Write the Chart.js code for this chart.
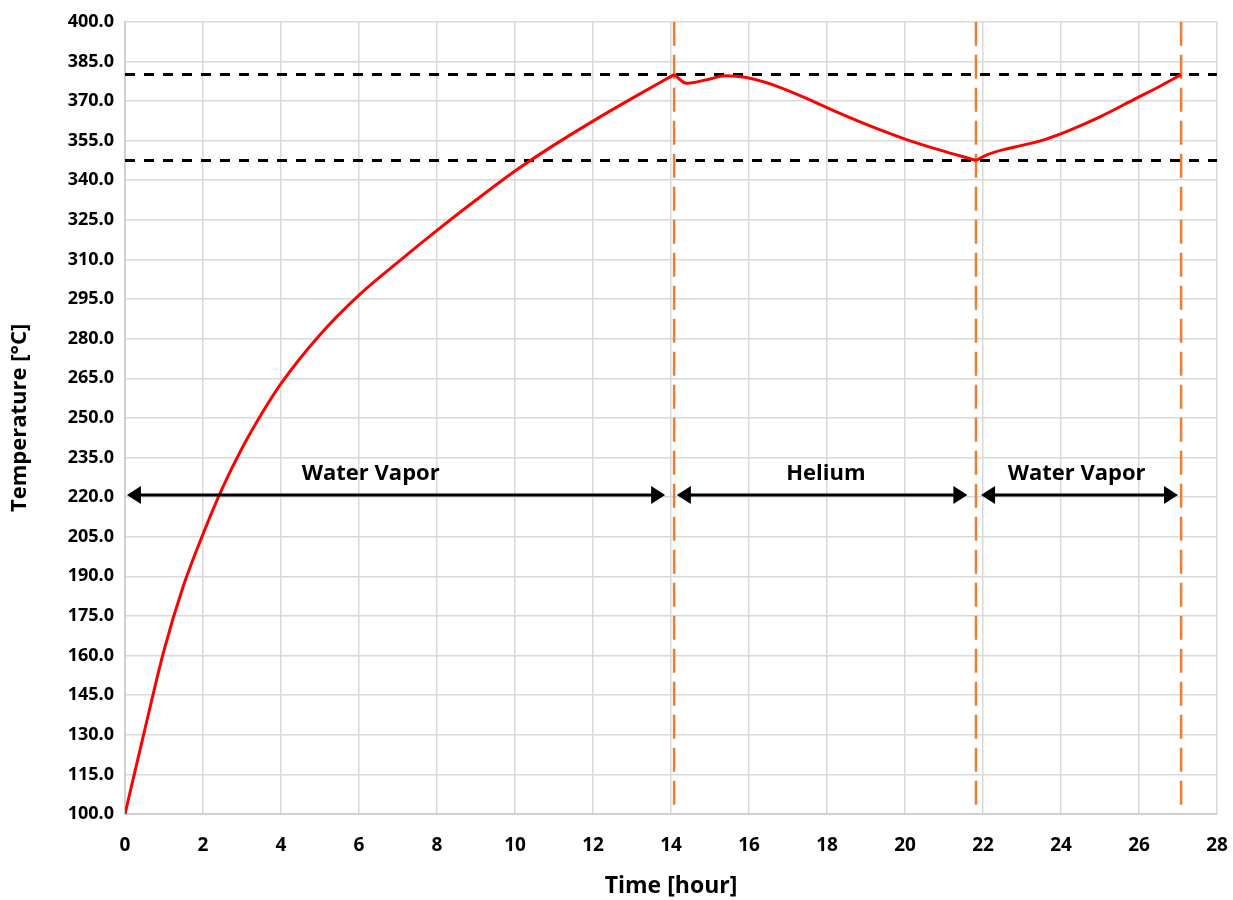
<!DOCTYPE html>
<html lang="en">
<head>
<meta charset="UTF-8">
<title>Temperature vs Time</title>
<style>
  html, body { margin: 0; padding: 0; overflow: hidden; background: #ffffff; }
  #wrap { width: 1233px; height: 900px; }
  canvas { display: block; }
</style>
</head>
<body>
<div id="wrap"><canvas id="chart" width="1233" height="900"></canvas></div>
<script src="https://cdn.jsdelivr.net/npm/chart.js"></script>
<script>
  // temperature curve
  var timeHours = [0, 0.5, 1.0, 1.5, 2.0, 2.5, 3.0, 3.5, 4.0, 5.0, 6.0, 7.0, 8.0, 9.0, 10.0, 11.0, 12.0, 13.0,
                   14.08, 14.4, 14.9, 15.4, 15.9, 16.6, 17.5, 18.3, 19.2, 20.0, 20.9, 21.82,
                   22.1, 22.5, 23.0, 23.6, 24.2, 25.0, 25.9, 26.5, 27.08];
  var tempC = [100, 131.5, 162, 186.5, 206, 223.5, 238.5, 251.5, 263, 281.5, 296.5, 309, 321, 332.5, 343.5,
               353.3, 362.4, 371, 380, 376.7, 378, 379.6, 379, 376.2, 370.8, 365.5, 360, 355.6, 351.4, 347.5,
               349.6, 351.5, 353.2, 355.5, 358.8, 364, 370.8, 375.3, 380];

  // reference lines
  var limitTemps = [380, 347.5];
  var switchTimes = [14.08, 21.82, 27.08];

  // gas phase arrows
  var phaseNames = ['Water Vapor', 'Helium', 'Water Vapor'];
  var phaseStart = [0.05, 14.15, 21.95];
  var phaseEnd = [13.85, 21.6, 27.0];
  var phaseLabelX = [6.3, 17.97, 24.4];
  var arrowTemp = 220.8;
  var labelTemp = 229;

  var FONT = '"Open Sans", Lato, sans-serif';

  var datasets = [];
  limitTemps.forEach(function (t) {
    datasets.push({
      data: [{x: 0, y: t}, {x: 28, y: t}],
      borderColor: '#000000', borderWidth: 3, borderDash: [10, 9],
      pointRadius: 0, order: 3
    });
  });
  switchTimes.forEach(function (s) {
    datasets.push({
      data: [{x: s, y: 400}, {x: s, y: 100}],
      borderColor: '#ed7d31', borderWidth: 2.5, borderDash: [24, 9],
      pointRadius: 0, order: 2
    });
  });
  // one curve piece per gas phase, so the corners at the switches stay sharp
  var from = 0;
  switchTimes.forEach(function (s) {
    var pts = [];
    timeHours.forEach(function (t, i) {
      if (t >= from && t <= s) pts.push({x: t, y: tempC[i]});
    });
    datasets.push({
      data: pts, borderColor: '#ff0000', borderWidth: 3, pointRadius: 0,
      cubicInterpolationMode: 'monotone', order: 1
    });
    from = s;
  });

  var phasePlugin = {
    id: 'phases',
    afterDatasetsDraw: function (chart) {
      var ctx = chart.ctx, xs = chart.scales.x, ys = chart.scales.y;
      var yA = ys.getPixelForValue(arrowTemp);
      ctx.save();
      ctx.strokeStyle = '#000000';
      ctx.fillStyle = '#000000';
      ctx.lineWidth = 3;
      for (var i = 0; i < phaseNames.length; i++) {
        var x1 = xs.getPixelForValue(phaseStart[i]);
        var x2 = xs.getPixelForValue(phaseEnd[i]);
        ctx.beginPath();
        ctx.moveTo(x1 + 10, yA);
        ctx.lineTo(x2 - 10, yA);
        ctx.stroke();
        // heads
        ctx.beginPath();
        ctx.moveTo(x1, yA); ctx.lineTo(x1 + 14, yA - 9); ctx.lineTo(x1 + 14, yA + 9); ctx.closePath();
        ctx.fill();
        ctx.beginPath();
        ctx.moveTo(x2, yA); ctx.lineTo(x2 - 14, yA - 9); ctx.lineTo(x2 - 14, yA + 9); ctx.closePath();
        ctx.fill();
        ctx.font = 'bold 22px ' + FONT;
        ctx.textAlign = 'center';
        ctx.textBaseline = 'middle';
        ctx.fillText(phaseNames[i], xs.getPixelForValue(phaseLabelX[i]), ys.getPixelForValue(labelTemp));
      }
      ctx.restore();
    }
  };

  new Chart(document.getElementById('chart'), {
    type: 'line',
    data: { datasets: datasets },
    options: {
      responsive: false,
      animation: false,
      layout: { autoPadding: false, padding: { top: 20, right: 16, left: 0, bottom: 0 } },
      plugins: { legend: { display: false }, tooltip: { enabled: false } },
      scales: {
        x: {
          type: 'linear', min: 0, max: 28,
          // fixed box, and no extra side padding from the tick labels
          afterFit: function (s) { s.height = 86; s.paddingLeft = 0; s.paddingRight = 0; },
          ticks: { stepSize: 2, color: '#000', padding: 20, font: { family: FONT, size: 19, weight: 'bold' } },
          grid: { color: '#d9d9d9', lineWidth: 1.5, drawTicks: false },
          border: { color: '#d0d0d0', width: 2 },
          title: { display: true, text: 'Time [hour]', color: '#000', padding: { top: 0, bottom: 0 },
                   font: { family: FONT, size: 23, weight: 'bold' } }
        },
        y: {
          min: 100, max: 400,
          afterFit: function (s) { s.width = 125; },
          ticks: { stepSize: 15, color: '#000', padding: 11, font: { family: FONT, size: 18, weight: 'bold' },
                   callback: function (v) { return v.toFixed(1); } },
          grid: { color: '#d9d9d9', lineWidth: 1.5, drawTicks: false },
          border: { color: '#d0d0d0', width: 2 },
          title: { display: true, text: 'Temperature [°C]', color: '#000', padding: { top: 7, bottom: 0 },
                   font: { family: FONT, size: 22, weight: 'bold' } }
        }
      }
    },
    plugins: [phasePlugin]
  });
</script>
</body>
</html>
